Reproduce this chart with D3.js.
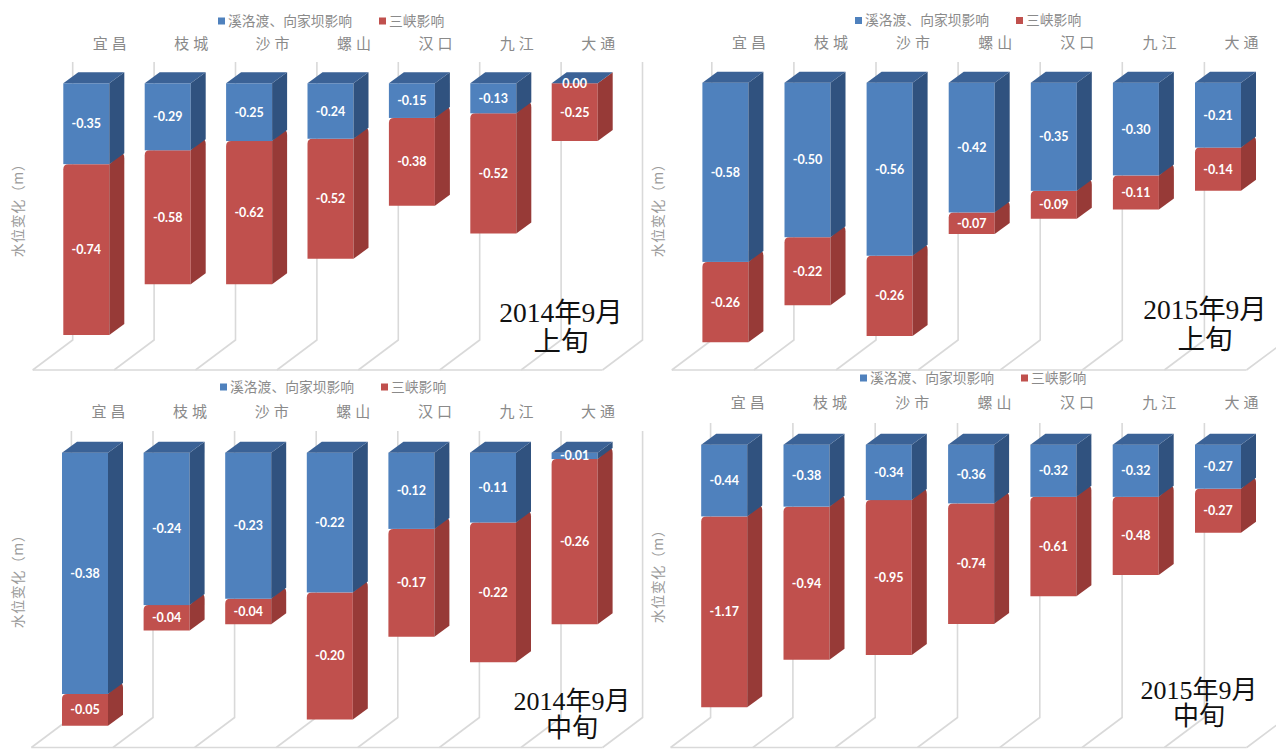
<!DOCTYPE html>
<html><head><meta charset="utf-8">
<script src="https://cdn.jsdelivr.net/npm/d3@7"></script>
<style>
html,body{margin:0;padding:0;background:#fff;}
svg{display:block;}
</style></head>
<body>
<svg id="chart" width="1276" height="749"></svg>
<script>
// ---------- data ----------
const categories = ["宜昌","枝城","沙市","螺山","汉口","九江","大通"];
const seriesNames = ["溪洛渡、向家坝影响","三峡影响"];
const yAxisTitle = "水位变化（m）";
const panelTitles = [["2014年9月","上旬"],["2015年9月","上旬"],["2014年9月","中旬"],["2015年9月","中旬"]];

const xjb2014Early = [-0.35,-0.29,-0.25,-0.24,-0.15,-0.13,0.00];
const sx2014Early  = [-0.74,-0.58,-0.62,-0.52,-0.38,-0.52,-0.25];
const xjb2015Early = [-0.58,-0.50,-0.56,-0.42,-0.35,-0.30,-0.21];
const sx2015Early  = [-0.26,-0.22,-0.26,-0.07,-0.09,-0.11,-0.14];
const xjb2014Mid   = [-0.38,-0.24,-0.23,-0.22,-0.12,-0.11,-0.01];
const sx2014Mid    = [-0.05,-0.04,-0.04,-0.20,-0.17,-0.22,-0.26];
const xjb2015Mid   = [-0.44,-0.38,-0.34,-0.36,-0.32,-0.32,-0.27];
const sx2015Mid    = [-1.17,-0.94,-0.95,-0.74,-0.61,-0.48,-0.27];
const axisMin = [-1.2,-0.9,-0.45,-1.8];

const panelSeries = [
  [xjb2014Early, sx2014Early],
  [xjb2015Early, sx2015Early],
  [xjb2014Mid, sx2014Mid],
  [xjb2015Mid, sx2015Mid]
];

// ---------- layout (positions / styles) ----------
const layout = [
  {x0:63.3, step:81.4, y0:83.3, k:231, gridTop:62, floor:370, legX:218, legY:21, catY:43.5, ytX:18, ytY:207, tX:561, tY:[321.5,351], tSize:27.5},
  {x0:702.4,step:82.1, y0:82.7, k:309, gridTop:62, floor:370, legX:855, legY:20.5, catY:43, ytX:658, ytY:207, tX:1205, tY:[318.5,348.5], tSize:27.5},
  {x0:62,   step:81.6, y0:452.7,k:635, gridTop:431,floor:747.5, legX:220, legY:387, catY:411.5, ytX:18, ytY:578, tX:572, tY:[710,736.5], tSize:26},
  {x0:701.2,step:82.3, y0:444.7,k:163, gridTop:423,floor:747.5, legX:860, legY:378, catY:403, ytX:658, ytY:573, tX:1199, tY:[698.5,725], tSize:26}
];
const barW = 46, depthX = 15, depthY = -11;
const colors = {
  front:["#4F81BD","#C0504D"],
  side:["#30527F","#973A37"],
  top:["#3B6296","#A8403D"]
};
const grid = "#D9D9D9";
const fmt = d3.formatLocale({decimal:".",thousands:",",grouping:[3],currency:["",""],minus:"-"}).format(".2f");

const svg = d3.select("#chart");

layout.forEach((L, pi) => {
  const g = svg.append("g");
  const n = categories.length;
  const p = 1 - barW / L.step;
  const x = d3.scaleBand().domain(categories)
    .range([L.x0 - L.step*p/2, L.x0 - L.step*p/2 + n*L.step])
    .paddingInner(p).paddingOuter(p/2);
  const y = d3.scaleLinear().domain([0, axisMin[pi]]).range([L.y0, L.y0 + L.k*(-axisMin[pi])]);

  // back-wall gridlines + floor
  const gridXs = d3.range(n+1).map(i => L.x0 + 9.4 + i*L.step);
  const floorBack = L.floor - 30;
  gridXs.forEach(gx => {
    g.append("path")
      .attr("d", `M${gx},${L.gridTop}L${gx},${floorBack}L${gx-40},${L.floor}`)
      .attr("fill","none").attr("stroke",grid).attr("stroke-width",1.6);
  });
  g.append("line").attr("x1",gridXs[0]-40).attr("x2",gridXs[n]-40)
    .attr("y1",L.floor).attr("y2",L.floor).attr("stroke",grid).attr("stroke-width",1.6);

  // legend
  const lg = g.append("g").attr("transform",`translate(${L.legX},${L.legY})`);
  const legOffsets = [0, 161];
  seriesNames.forEach((s, si) => {
    lg.append("rect").attr("x",legOffsets[si]).attr("y",-3.5).attr("width",7).attr("height",7).attr("fill",colors.front[si]);
    lg.append("text").attr("x",legOffsets[si]+10).attr("y",0).attr("dy","0.36em")
      .attr("font-family","'Noto Sans CJK SC'").attr("font-size",13.8).attr("fill","#8a8a8a").text(s);
  });

  // category labels
  g.selectAll(".cat").data(categories).enter().append("text")
    .attr("x", d => x(d) + barW/2 + 25.5).attr("y", L.catY).attr("dy","0.36em")
    .attr("text-anchor","middle").attr("font-family","'Noto Sans CJK SC'")
    .attr("font-size",15).attr("letter-spacing","4px").attr("fill","#8a8a8a")
    .text(d => d);

  // y axis title
  g.append("text").attr("transform",`translate(${L.ytX},${L.ytY}) rotate(-90)`)
    .attr("text-anchor","middle").attr("dy","0.36em")
    .attr("font-family","'Noto Sans CJK SC'").attr("font-size",14).attr("letter-spacing","0.5px").attr("fill","#9a9a9a")
    .text(yAxisTitle);

  // bars
  const [blue, red] = panelSeries[pi];
  categories.forEach((c, ci) => {
    const xl = x(c), xr = xl + x.bandwidth();
    const segs = [
      {si:0, v0:0, v1:blue[ci], val:blue[ci]},
      {si:1, v0:blue[ci], v1:blue[ci]+red[ci], val:red[ci]}
    ];
    const bg = g.append("g");
    // red (lower) segment with bevelled top where it meets blue
    {
      const s = segs[1];
      const yt = y(s.v0), yb = y(s.v1);
      const r = (y(s.v0) - y(0)) > 1 ? Math.min(5, (yb-yt)/2) : 0;
      bg.append("path")
        .attr("d",`M${xl},${yb}L${xl},${yt+r}Q${xl},${yt} ${xl+r},${yt}L${xr},${yt}L${xr},${yb}Z`)
        .attr("fill",colors.front[1]);
      bg.append("path")
        .attr("d",`M${xr},${yt}L${xr+depthX-r*0.6},${yt+depthY}Q${xr+depthX},${yt+depthY} ${xr+depthX},${yt+depthY+r}L${xr+depthX},${yb+depthY}L${xr},${yb}Z`)
        .attr("fill",colors.side[1]);
    }
    // blue (upper) segment
    {
      const s = segs[0];
      const yt = y(s.v0), yb = y(s.v1);
      bg.append("rect").attr("x",xl).attr("y",yt).attr("width",xr-xl).attr("height",Math.max(0,yb-yt))
        .attr("fill",colors.front[0]);
      bg.append("path")
        .attr("d",`M${xr},${yt}L${xr+depthX},${yt+depthY}L${xr+depthX},${yb+depthY}L${xr},${yb}Z`)
        .attr("fill",colors.side[0]);
    }
    const yt0 = y(0);
    bg.append("path")
      .attr("d",`M${xl},${yt0}L${xl+depthX},${yt0+depthY}L${xr+depthX},${yt0+depthY}L${xr},${yt0}Z`)
      .attr("fill",colors.top[0]);
    segs.forEach(s => {
      bg.append("text").attr("x",(xl+xr)/2).attr("y",(y(s.v0)+y(s.v1))/2).attr("dy","0.36em")
        .attr("text-anchor","middle").attr("font-family","Lato, 'Open Sans', sans-serif")
        .attr("font-weight","bold").attr("font-size",12.5).attr("fill","#fff")
        .text(fmt(s.val));
    });
  });

  // panel title
  panelTitles[pi].forEach((t, ti) => {
    g.append("text").attr("x",L.tX).attr("y",L.tY[ti]).attr("text-anchor","middle")
      .attr("font-family","'Liberation Serif','Noto Sans CJK SC', serif")
      .attr("font-size",L.tSize).attr("fill","#111").text(t);
  });
});
</script>
</body></html>
